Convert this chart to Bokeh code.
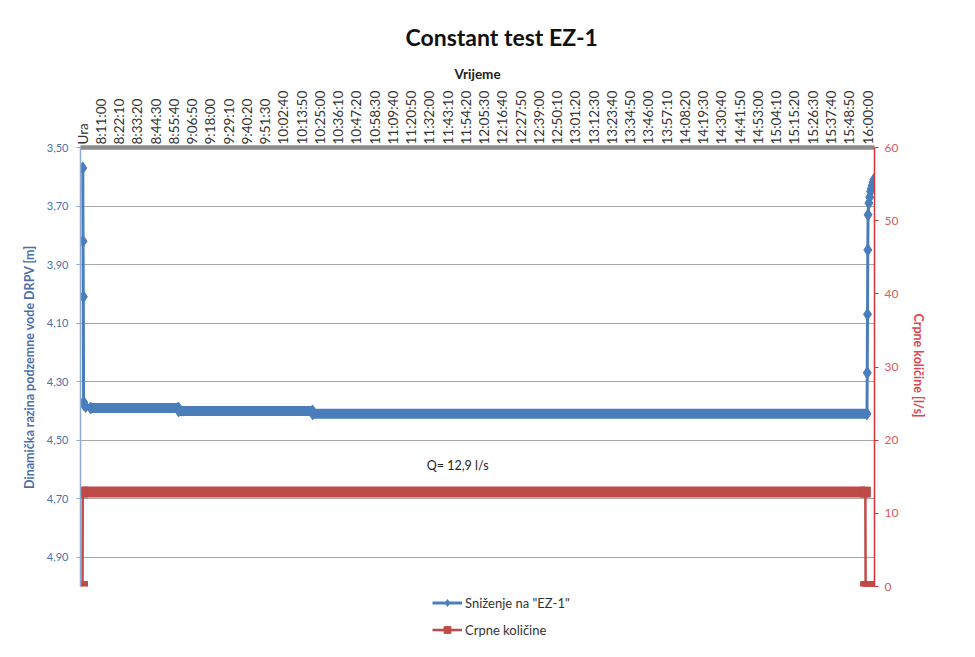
import math
from bokeh.plotting import figure
from bokeh.layouts import column
from bokeh.models import (Range1d, LinearAxis, FixedTicker, CustomJSTickFormatter,
                          Legend, LegendItem, Label)
from bokeh.embed import file_html
from bokeh.resources import INLINE

# ---------------- data ----------------
time_labels = ["Ura", "8:11:00", "8:22:10", "8:33:20", "8:44:30", "8:55:40", "9:06:50",
               "9:18:00", "9:29:10", "9:40:20", "9:51:30", "10:02:40", "10:13:50",
               "10:25:00", "10:36:10", "10:47:20", "10:58:30", "11:09:40", "11:20:50",
               "11:32:00", "11:43:10", "11:54:20", "12:05:30", "12:16:40", "12:27:50",
               "12:39:00", "12:50:10", "13:01:20", "13:12:30", "13:23:40", "13:34:50",
               "13:46:00", "13:57:10", "14:08:20", "14:19:30", "14:30:40", "14:41:50",
               "14:53:00", "15:04:10", "15:15:20", "15:26:30", "15:37:40", "15:48:50",
               "16:00:00"]
label_every = 67          # 10-second readings between labelled categories

# Sniženje na "EZ-1" [m] : reading index -> level
level_idx = [1, 2, 3, 4, 6, 12, 30, 352, 353, 844, 845, 2879,
             2880, 2881, 2882, 2883, 2886, 2889, 2892, 2895, 2898, 2901, 2904]
level_val = [3.57, 3.82, 4.01, 4.37, 4.38, 4.385, 4.39, 4.39, 4.40, 4.40, 4.41, 4.41,
             4.27, 4.07, 3.85, 3.73, 3.69, 3.67, 3.65, 3.64, 3.63, 3.62, 3.61]

# Crpne količine [l/s]
q_idx = [0, 1, 2873, 2874, 2881, 2889, 2897, 2904]
q_val = [0, 12.9, 12.9, 0, 0, 0, 0, 0]

level_ticks = [3.5, 3.7, 3.9, 4.1, 4.3, 4.5, 4.7, 4.9]
q_ticks = [0, 10, 20, 30, 40, 50, 60]

series_names = ['Sniženje na "EZ-1"', "Crpne količine"]

BLUE = "#4a7ebb"
RED = "#be4b48"
FONT = "Lato"

# ---------------- main figure ----------------
p = figure(width=959, height=592, output_backend="svg", toolbar_location=None,
           x_range=Range1d(-7.34, 2906.6), y_range=Range1d(5.0, 3.5),
           x_axis_location="above",
           min_border_left=80, min_border_right=85, min_border_top=147, min_border_bottom=6)
p.outline_line_color = None
p.background_fill_color = "white"
p.border_fill_color = "white"
p.title.text = "Constant test EZ-1"
p.title.text_font = FONT
p.title.text_font_size = "23px"
p.title.text_font_style = "bold"
p.title.text_color = "#111111"
p.title.align = "left"
p.title.offset = 325
p.title.standoff = 23

p.extra_y_ranges = {"q": Range1d(0, 60)}

# top category axis
xa = p.xaxis[0]
xa.ticker = FixedTicker(ticks=[i * label_every for i in range(len(time_labels))])
xa.major_label_overrides = {i * label_every: t for i, t in enumerate(time_labels)}
xa.major_label_orientation = math.pi / 2
xa.major_label_text_font = FONT
xa.major_label_text_font_size = "13.5px"
xa.major_label_text_color = "#333333"
xa.major_label_standoff = 3
xa.major_tick_out = 0
xa.major_tick_in = 0
xa.minor_tick_out = 0
xa.minor_tick_in = 0
xa.axis_line_color = "#8c8c8c"
xa.axis_line_width = 4.5
xa.axis_label = "Vrijeme"
xa.axis_label_text_font = FONT
xa.axis_label_text_font_size = "13.5px"
xa.axis_label_text_font_style = "bold"
xa.axis_label_text_color = "#222222"
xa.axis_label_standoff = 6

# left axis (reversed)
ya = p.yaxis[0]
ya.ticker = FixedTicker(ticks=level_ticks)
ya.formatter = CustomJSTickFormatter(code="return tick.toFixed(2).replace('.', ',');")
ya.major_label_text_font = FONT
ya.major_label_text_font_size = "11px"
ya.major_label_text_color = "#4a6fae"
ya.major_label_standoff = 8
ya.major_tick_out = 4
ya.major_tick_in = 0
ya.minor_tick_out = 0
ya.minor_tick_in = 0
ya.major_tick_line_color = "#8eaad2"
ya.axis_line_color = "#8eaad2"
ya.axis_line_width = 1.5
ya.axis_label = "Dinamička razina podzemne vode DRPV [m]"
ya.axis_label_text_font = FONT
ya.axis_label_text_font_size = "12.5px"
ya.axis_label_text_font_style = "bold"
ya.axis_label_text_color = "#4a6fae"
ya.axis_label_standoff = 7

# right axis
ra = LinearAxis(y_range_name="q", ticker=FixedTicker(ticks=q_ticks))
ra.major_label_text_font = FONT
ra.major_label_text_font_size = "12px"
ra.major_label_text_color = "#dc5a58"
ra.major_label_standoff = 6
ra.major_tick_out = 4
ra.major_tick_in = 0
ra.minor_tick_out = 0
ra.minor_tick_in = 0
ra.major_tick_line_color = "#d9343a"
ra.axis_line_color = "#d9343a"
ra.axis_line_width = 1.5
ra.axis_label = "Crpne količine  [l/s]"
ra.axis_label_text_font = FONT
ra.axis_label_text_font_size = "12.5px"
ra.axis_label_text_font_style = "bold"
ra.axis_label_text_color = "#d8464b"
ra.axis_label_standoff = 10
p.add_layout(ra, "right")

p.xgrid.visible = False
p.ygrid.grid_line_color = "#a6a6a6"
p.ygrid.grid_line_width = 1

# ---------------- series ----------------
# pumping rate
q_plateau = [(i, v) for i, v in zip(q_idx, q_val) if v > 0]
p.line([a for a, _ in q_plateau], [b for _, b in q_plateau], y_range_name="q",
       line_color=RED, line_width=11)
p.line(q_idx, q_val, y_range_name="q", line_color=RED, line_width=2.5)
p.scatter(q_idx, q_val, y_range_name="q", marker="square", size=10,
          fill_color=RED, line_color=RED)

# drawdown level
plateau = [(i, v) for i, v in zip(level_idx, level_val) if 30 <= i <= 2879]
p.line([a for a, _ in plateau], [b for _, b in plateau], line_color=BLUE, line_width=10)
p.line(level_idx, level_val, line_color=BLUE, line_width=3)
p.scatter(level_idx, level_val, marker="diamond", size=12, fill_color=BLUE, line_color=BLUE)

# Q annotation
q_label_x = (q_plateau[0][0] + q_plateau[-1][0]) / 2 - 60
p.add_layout(Label(x=q_label_x, y=q_plateau[0][1] + 3.6, y_range_name="q",
                   text="Q= 12,9 l/s", text_font=FONT, text_font_size="12.5px",
                   text_color="#222222", text_align="center", text_baseline="middle"))

# ---------------- legend strip (frame aligned with the main frame) ----------------
# its ranges lie outside all data, so only the legend glyphs are visible
lg = figure(width=959, height=57, output_backend="svg", toolbar_location=None,
            x_range=Range1d(-3, -2), y_range=Range1d(-3, -2),
            x_axis_location=None, y_axis_location=None,
            min_border_left=0, min_border_right=0, min_border_top=0, min_border_bottom=0)
lg.outline_line_color = None
lg.grid.visible = False
lg_b_line = lg.line(level_idx, level_val, line_color=BLUE, line_width=3)
lg_b_mark = lg.scatter(level_idx, level_val, marker="diamond", size=12,
                       fill_color=BLUE, line_color=BLUE)
lg_r_line = lg.line(q_idx, q_val, line_color=RED, line_width=2.5)
lg_r_mark = lg.scatter(q_idx, q_val, marker="square", size=10, fill_color=RED, line_color=RED)

legend = Legend(items=[LegendItem(label=series_names[0], renderers=[lg_b_line, lg_b_mark]),
                       LegendItem(label=series_names[1], renderers=[lg_r_line, lg_r_mark])],
                location=(352, 11), orientation="vertical")
legend.label_text_font = FONT
legend.label_text_font_size = "13px"
legend.label_text_color = "#333333"
legend.glyph_width = 30
legend.glyph_height = 17
legend.label_height = 17
legend.spacing = 10
legend.padding = 0
legend.margin = 0
legend.label_standoff = 3
legend.border_line_color = None
legend.background_fill_alpha = 0
lg.add_layout(legend, "center")

open("out.html", "w").write(file_html(column(p, lg, spacing=0), INLINE))
